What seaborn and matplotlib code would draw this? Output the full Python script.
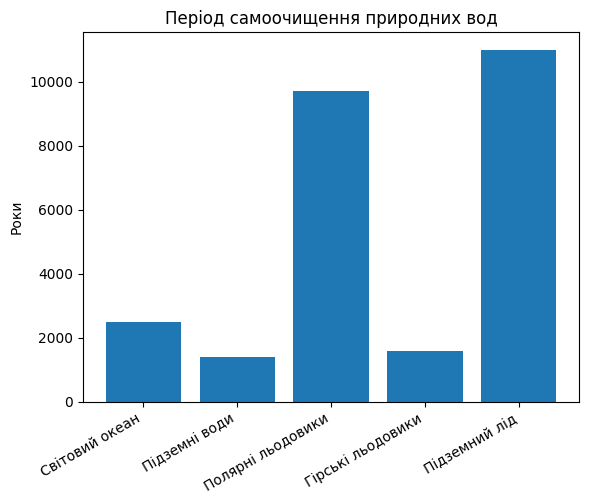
import matplotlib
matplotlib.use("Agg")
import matplotlib.pyplot as plt
import seaborn as sns
import pandas as pd

categories = ["Світовий океан", "Підземні води", "Полярні льодовики",
              "Гірські льодовики", "Підземний лід"]
years = [2500, 1400, 9700, 1600, 11000]

df = pd.DataFrame({"water": categories, "years": years})

fig = plt.figure(figsize=(5.89, 5.04), dpi=100)
ax = fig.add_axes([0.141, 0.2024, 0.842, 0.7336])

sns.barplot(data=df, x="water", y="years", color="#1f77b4", saturation=1,
            width=0.8, ax=ax)
for p in ax.patches:
    p.set_edgecolor("none")

# matplotlib-style 5% margins around the bars
ax.set_xlim(-0.4 - 0.24, len(categories) - 0.6 + 0.24)
ax.set_ylim(0, max(years) * 1.05)
ax.set_title("Період самоочищення природних вод")
ax.set_ylabel("Роки")
ax.set_xlabel("")
plt.setp(ax.get_xticklabels(), rotation=30, ha="right")

fig.savefig("out.png", dpi=100)
